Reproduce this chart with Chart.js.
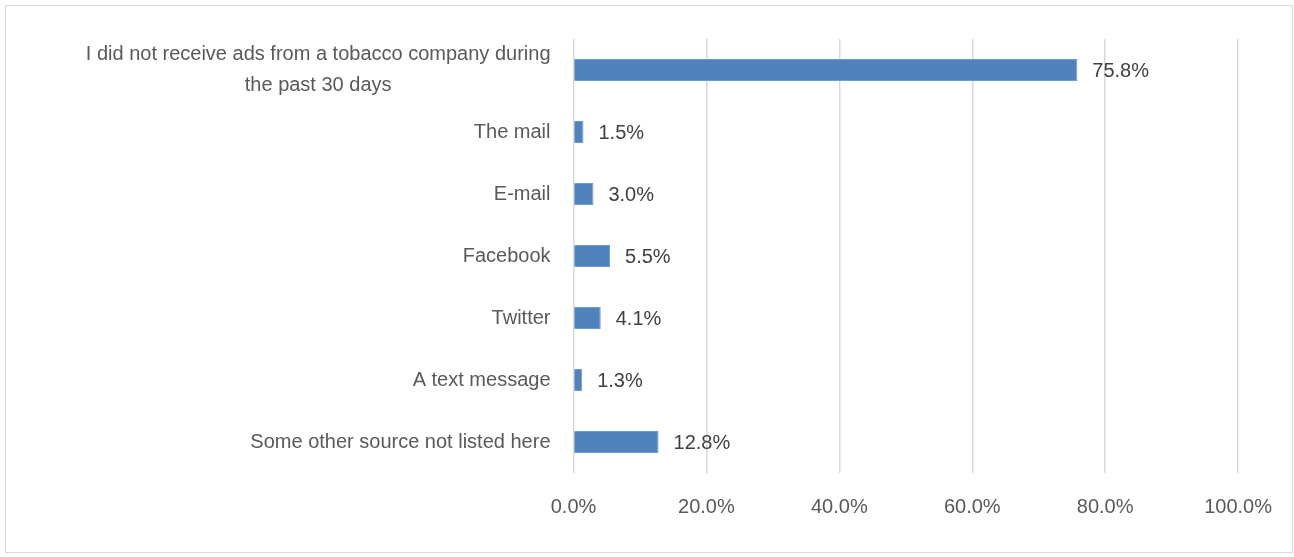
<!DOCTYPE html>
<html>
<head>
<meta charset="utf-8">
<script src="https://cdn.jsdelivr.net/npm/chart.js@4"></script>
<style>
  html, body { margin: 0; padding: 0; background: #fff; }
  #wrap { position: absolute; left: 5px; top: 5px; width: 1288px; height: 548px; border: 1px solid #d9d9d9; box-sizing: border-box; }
  canvas { position: absolute; left: 0; top: 0; }
</style>
</head>
<body>
<div id="wrap"></div>
<canvas id="chart" width="1294" height="557"></canvas>
<script>
// Data
const categories = [
    ['I did not receive ads from a tobacco company during', 'the past 30 days'],
    'The mail',
    'E-mail',
    'Facebook',
    'Twitter',
    'A text message',
    'Some other source not listed here'
];
const percentValues = [75.8, 1.5, 3.0, 5.5, 4.1, 1.3, 12.8];
const tickValues = [0, 20, 40, 60, 80, 100];

const FONT = '"Liberation Sans", Arial, sans-serif';

// Category labels: right-aligned block, multi-line blocks centred inside themselves
const categoryLabels = {
    id: 'categoryLabels',
    afterDraw(chart) {
        const ctx = chart.ctx;
        const y = chart.scales.y;
        const rightEdge = y.right - 23;
        ctx.save();
        ctx.font = '20px ' + FONT;
        ctx.fillStyle = '#595959';
        ctx.textBaseline = 'middle';
        ctx.textAlign = 'center';
        categories.forEach((label, i) => {
            const lines = Array.isArray(label) ? label : [label];
            const w = Math.max(...lines.map(l => ctx.measureText(l).width));
            const cy = y.getPixelForValue(i);
            const lh = 31;
            const top = cy - (lines.length - 1) * lh / 2;
            lines.forEach((l, k) => ctx.fillText(l, rightEdge - w / 2, top + k * lh));
        });
        ctx.restore();
    }
};

// Draw value labels to the right of each bar
const valueLabels = {
    id: 'valueLabels',
    afterDatasetsDraw(chart) {
        const ctx = chart.ctx;
        const meta = chart.getDatasetMeta(0);
        ctx.save();
        ctx.font = '20px ' + FONT;
        ctx.fillStyle = '#404040';
        ctx.textAlign = 'left';
        ctx.textBaseline = 'middle';
        meta.data.forEach((bar, i) => {
            ctx.fillText(percentValues[i].toFixed(1) + '%', bar.x + 15, bar.y + 1);
        });
        ctx.restore();
    }
};

new Chart(document.getElementById('chart').getContext('2d'), {
    type: 'bar',
    data: {
        labels: categories,
        datasets: [{
            data: percentValues,
            backgroundColor: '#4f81bd',
            borderColor: '#6f9ad0',
            borderWidth: 1,
            categoryPercentage: 1,
            barPercentage: 0.355
        }]
    },
    options: {
        indexAxis: 'y',
        responsive: false,
        animation: false,
        layout: { autoPadding: false, padding: { top: 39, right: 51, left: 0, bottom: 0 } },
        plugins: {
            legend: { display: false },
            tooltip: { enabled: false }
        },
        scales: {
            x: {
                min: 0,
                max: 100,
                afterBuildTicks(scale) {
                    scale.ticks = tickValues.map(v => ({ value: v }));
                },
                afterFit(scale) { scale.height = 84; },
                grid: { color: '#d9d9d9', lineWidth: 1.5, drawTicks: false },
                border: { display: false },
                ticks: {
                    padding: 22,
                    color: '#595959',
                    font: { size: 20, family: FONT },
                    callback: v => v.toFixed(1) + '%'
                }
            },
            y: {
                afterFit(scale) { scale.width = 573.5; },
                grid: { display: false },
                border: { display: false },
                ticks: { display: false, autoSkip: false }
            }
        }
    },
    plugins: [valueLabels, categoryLabels]
});
</script>
</body>
</html>
